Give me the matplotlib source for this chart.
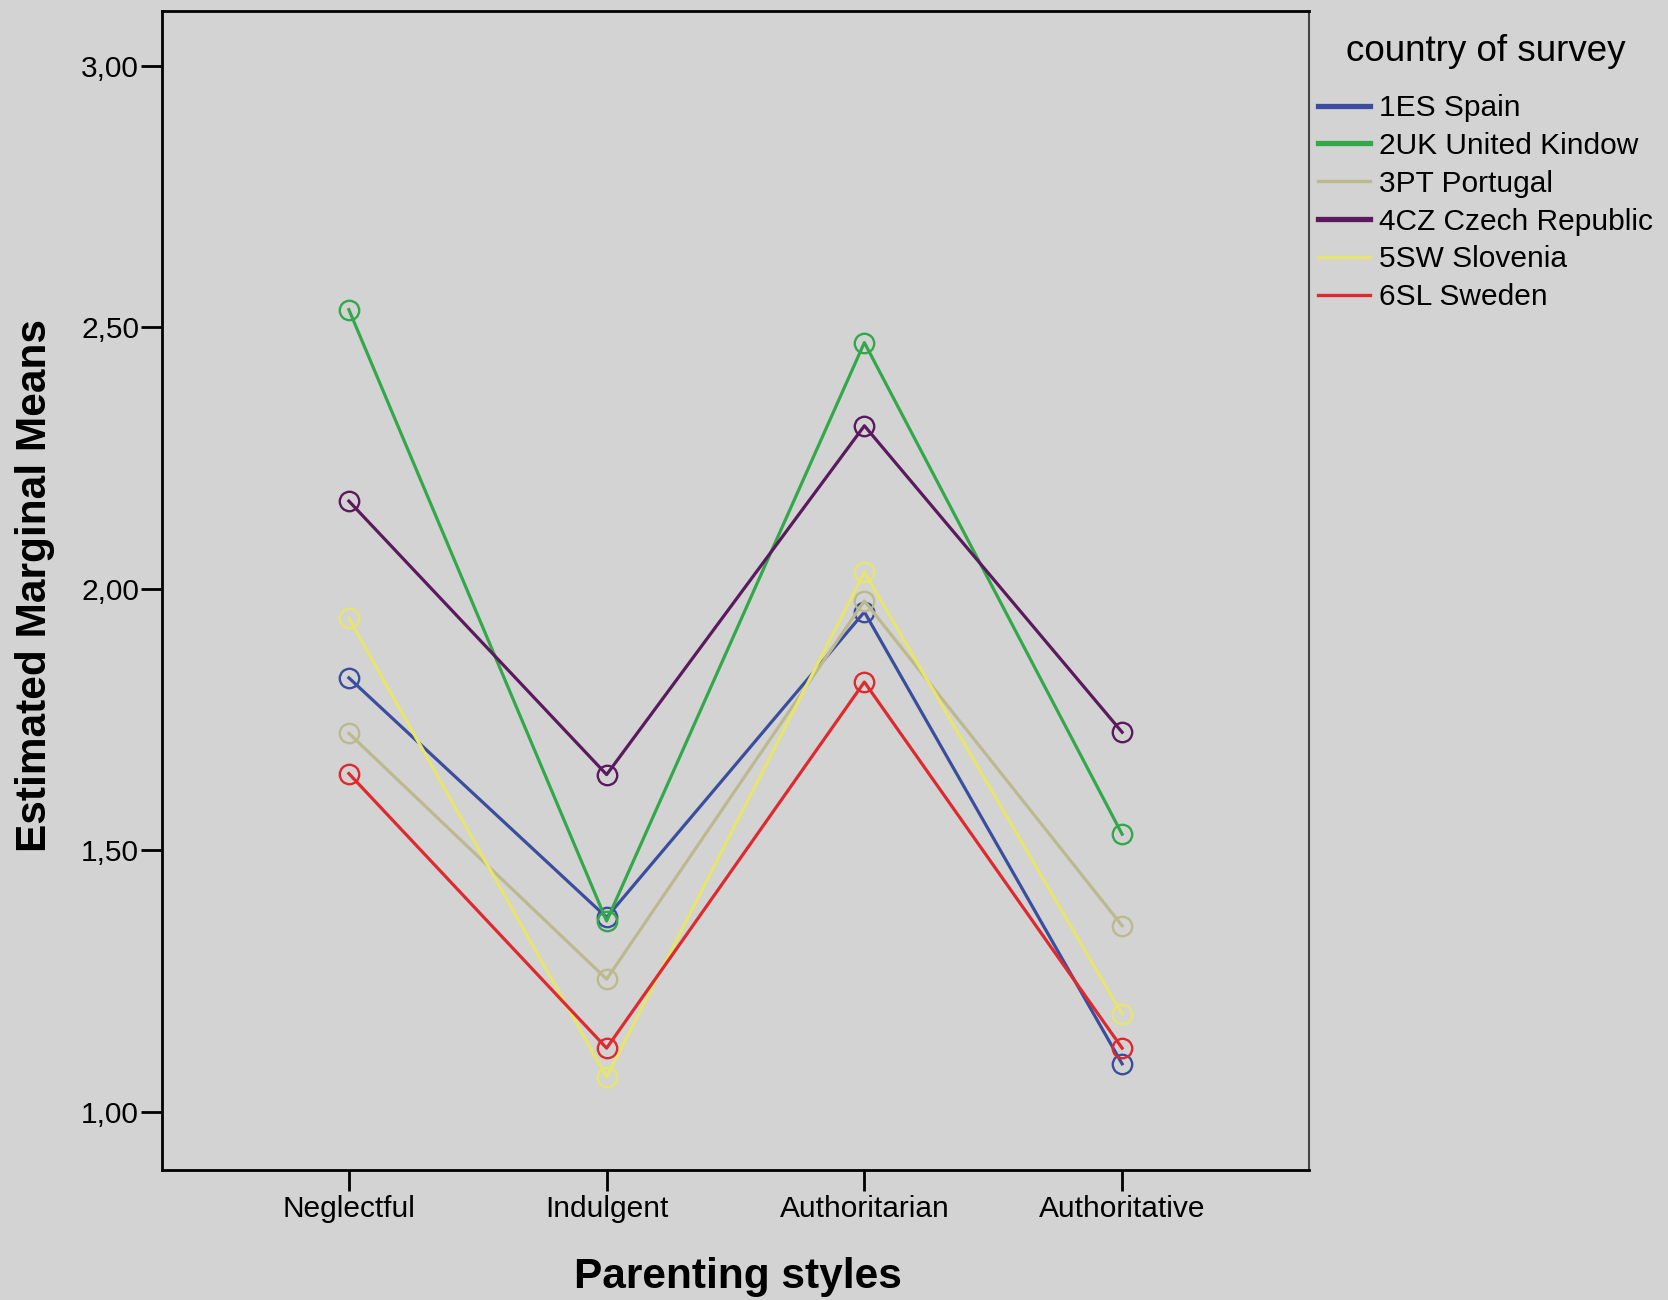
import matplotlib
matplotlib.use("Agg")
import matplotlib.pyplot as plt
from matplotlib.lines import Line2D

styles = ["Neglectful", "Indulgent", "Authoritarian", "Authoritative"]
countries = ["1ES Spain", "2UK United Kindow", "3PT Portugal",
             "4CZ Czech Republic", "5SW Slovenia", "6SL Sweden"]
spain = [1.830, 1.372, 1.956, 1.092]
uk = [2.534, 1.365, 2.471, 1.531]
portugal = [1.724, 1.254, 1.977, 1.356]
czech = [2.168, 1.645, 2.312, 1.726]
slovenia = [1.944, 1.067, 2.032, 1.187]
sweden = [1.647, 1.122, 1.822, 1.122]
yticks = [1.00, 1.50, 2.00, 2.50, 3.00]
ytick_labels = ["1,00", "1,50", "2,00", "2,50", "3,00"]

series = [spain, uk, portugal, czech, slovenia, sweden]
colors = ["#3B4E9E", "#33A84B", "#BDB98F", "#5A1A5D", "#E5E56F", "#DE2A2F"]
leg_lw = [3.8, 3.8, 2.4, 3.8, 2.4, 2.4]

bg = "#D3D3D3"
font = "Liberation Sans"
plt.rcParams['font.family'] = [font, 'DejaVu Sans']

fig = plt.figure(figsize=(16.68, 13.0), dpi=100, facecolor=bg)
W, H = 1668, 1300
ax = fig.add_axes([162 / W, 1 - 1170 / H, (1309 - 162) / W, (1170 - 11) / H])
ax.set_facecolor(bg)

x = list(range(len(styles)))
for vals, c in zip(series, colors):
    ax.plot(x, vals, color=c, lw=2.3, marker='o', markersize=14,
            markerfacecolor='none', markeredgecolor=c, markeredgewidth=1.7)

ax.set_xlim(-0.725, 3.725)
ax.set_ylim(0.889, 3.105)
ax.set_xticks(x)
ax.set_xticklabels(styles, fontsize=21.5)
ax.set_yticks(yticks)
ax.set_yticklabels(ytick_labels, fontsize=21.5)
ax.tick_params(axis='both', direction='out', length=15, width=2.0,
               color='black')
ax.tick_params(axis='x', pad=3)
ax.tick_params(axis='y', pad=1.5)
for side in ['left', 'bottom', 'top']:
    ax.spines[side].set_linewidth(2.0)
    ax.spines[side].set_color('black')
ax.spines['right'].set_linewidth(1.5)
ax.spines['right'].set_color('#444444')

fig.text(35 / W, 1 - 586 / H, "Estimated Marginal Means", rotation=90,
         ha='center', va='center', fontsize=30.5, fontweight='bold')
fig.text(738 / W, 1 - 1277 / H, "Parenting styles",
         ha='center', va='center', fontsize=30.5, fontweight='bold')

handles = [Line2D([0], [0], color=c, lw=lw) for c, lw in zip(colors, leg_lw)]
leg = fig.legend(handles, countries, loc='upper left',
                 bbox_to_anchor=(1318 / W, 1 - 34 / H),
                 frameon=False, fontsize=21.5, title="country of survey",
                 title_fontsize=26.5, handlelength=1.75, handletextpad=0.3,
                 labelspacing=0.33, borderpad=0, borderaxespad=0)
leg._legend_box.sep = 18

fig.savefig("out.png", dpi=100, facecolor=bg)
